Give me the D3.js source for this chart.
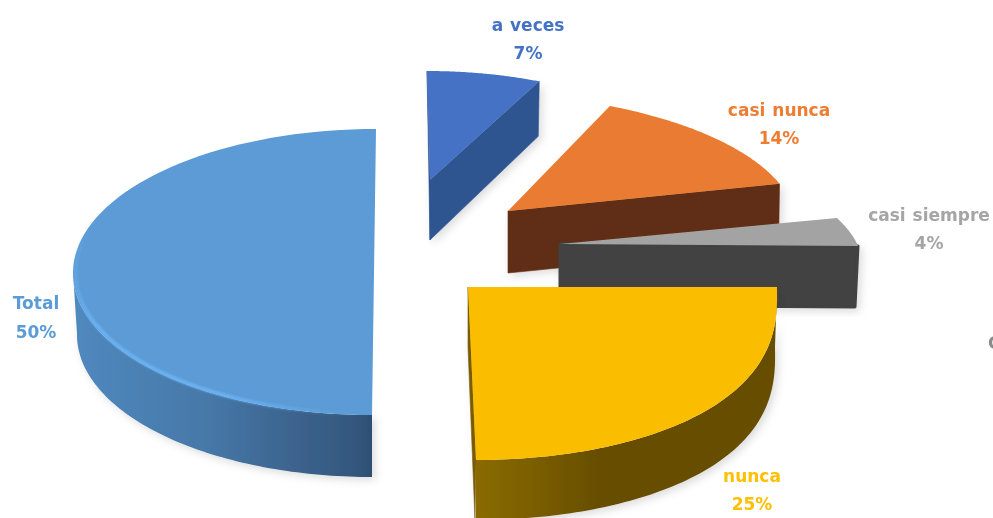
<!DOCTYPE html>
<html><head><meta charset="utf-8">
<script src="https://cdnjs.cloudflare.com/ajax/libs/d3/7.8.5/d3.min.js"></script>
<style>
html,body{margin:0;padding:0;background:#fff;overflow:hidden}
svg{display:block}
text{font-family:"DejaVu Sans",sans-serif;font-weight:bold;font-size:17px;text-anchor:middle;word-spacing:1px}
</style></head><body>
<svg id="c" width="993" height="518"></svg>
<script>
// Data
const categories = ["a veces","casi nunca","casi siempre","nunca","Total"];
const percents   = [7,14,4,25,50];
const croppedEdgeText = ["C"];
// Styles
const topColors  = ["#4472c4","#e97c30","#a3a3a3","#fbbd00","#5b9bd5"];
const wallColors = ["#2f5490","#612f13","#424242","#7a5c00","#4a7fb0"];
const textColors = ["#4472c4","#ed7d31","#a5a5a5","#ffc000","#5b9bd5"];
// Layout: each exploded slice has its own projected position and radii
const centreX = [430,508,560,468,374];
const centreY = [180,211,244,287,272];
const radiusX = [263,286,298,309,301];
const radiusY = [109,117,112,173,143];
const shearX  = [-3,-22,-47,-8,2];
const tiltY   = [0,2,2,0,0];
const powerY  = [1,1,1,0.8,1];
const depth   = [60,62,61,60,62];
const inset   = [2,2,6,2,4];
const labelX  = [528,779,929,752,36];
const labelY1 = [31,116,221,482,309];
const labelY2 = [59,144,249,510,338];
const showStart = [true,false,false,false,false];
const showEnd   = [true,true,true,true,false];
const showRim   = [false,false,false,true,true];

const svg = d3.select("#c");
const defs = svg.append("defs");
const soft = defs.append("filter").attr("id","soft").attr("x","-5%").attr("y","-5%").attr("width","110%").attr("height","110%");
soft.append("feGaussianBlur").attr("stdDeviation",0.55);
const shadow = defs.append("filter").attr("id","shadow").attr("x","-10%").attr("y","-10%").attr("width","120%").attr("height","125%");
shadow.append("feDropShadow").attr("dx",3).attr("dy",3).attr("stdDeviation",4).attr("flood-color","#000").attr("flood-opacity",0.14);
const glow = defs.append("filter").attr("id","glow").attr("x","-5%").attr("y","-5%").attr("width","110%").attr("height","110%");
glow.append("feGaussianBlur").attr("stdDeviation",0.9);

function gradient(id, stops){
  const g = defs.append("linearGradient").attr("id",id).attr("x1",0).attr("x2",1).attr("y1",0).attr("y2",0);
  stops.forEach(s=>g.append("stop").attr("offset",s[0]).attr("stop-color",s[1]));
}
gradient("wall3",[[0,"#8a6b00"],[0.2,"#7a5d00"],[0.42,"#664d00"],[1,"#664d00"]]);
gradient("wall4",[[0,"#5089bf"],[0.45,"#4678a8"],[0.8,"#395f88"],[0.93,"#355880"],[1,"#2d4f72"]]);

const arcs = d3.pie().sort(null).value(d=>d)(percents);
const steps = 80;

function px(i,a,r=1){return centreX[i]+radiusX[i]*r*Math.sin(a)+shearX[i]*r*Math.cos(a);}
function py(i,a,r=1){
  const c=Math.cos(a);
  return centreY[i]-radiusY[i]*r*Math.sign(c)*Math.pow(Math.abs(c),powerY[i])+tiltY[i]*r*Math.sin(a);
}
function sweep(a0,a1){return d3.range(steps+1).map(k=>a0+(a1-a0)*k/steps);}
const poly = d3.line();

const root = svg.append("g").attr("filter","url(#soft)");
const charts = root.selectAll("g.slice").data(arcs).join("g").attr("class","slice");

charts.each(function(d,i){
  const g = d3.select(this);
  const walls = g.append("g").attr("filter","url(#shadow)");
  const cut = a => {
    const bx = centreX[i], by = centreY[i];
    const ex = px(i,a), ey = py(i,a);
    const pts = [[bx,by],[ex,ey],[ex-Math.sign(ex-bx)*inset[i]*0.5,ey+depth[i]-(i===0?5:0)],[bx,by+depth[i]]];
    walls.append("path").attr("d",poly(pts)+"Z")
      .attr("fill",wallColors[i]).attr("stroke",wallColors[i])
      .attr("stroke-width",i===2?3:0.6).attr("stroke-linejoin","round");
  };
  if(showStart[i]) cut(d.startAngle);
  if(showEnd[i]) cut(d.endAngle);
  if(showRim[i]){
    const a0 = d.startAngle, a1 = i===4 ? d.startAngle+Math.PI*0.5 : d.endAngle;
    const area = d3.area()
      .x0(a=>px(i,a)).y0(a=>py(i,a))
      .x1(a=>centreX[i]+(radiusX[i]-inset[i])*Math.sin(a)+shearX[i]*Math.cos(a))
      .y1(a=>py(i,a)+depth[i]);
    walls.append("path").attr("d",area(sweep(a0,a1)))
      .attr("fill",i===3?"url(#wall3)":"url(#wall4)");
  }
  // top face, built from the pie layout's angles and projected
  const face = [[centreX[i],centreY[i]]].concat(sweep(d.startAngle,d.endAngle).map(a=>[px(i,a),py(i,a)]));
  g.append("path").attr("d",poly(face)+"Z").attr("fill",topColors[i]);
  if(i===4){
    const rimLine = d3.line().x(a=>px(i,a,0.992)).y(a=>py(i,a,0.992));
    const pts = sweep(d.startAngle+0.08,d.startAngle+Math.PI*0.6);
    defs.append("linearGradient").attr("id","hi2").attr("gradientUnits","userSpaceOnUse")
      .attr("x1",340).attr("y1",410).attr("x2",160).attr("y2",165)
      .call(s=>{
        s.append("stop").attr("offset",0).attr("stop-color","#6cb4f5").attr("stop-opacity",0.1);
        s.append("stop").attr("offset",0.25).attr("stop-color","#6cb4f5").attr("stop-opacity",0.95);
        s.append("stop").attr("offset",0.7).attr("stop-color","#6cb4f5").attr("stop-opacity",0.95);
        s.append("stop").attr("offset",1).attr("stop-color","#6cb4f5").attr("stop-opacity",0);
      });
    g.append("path").attr("d",rimLine(pts)).attr("fill","none")
      .attr("stroke","url(#hi2)").attr("stroke-width",3.5).attr("filter","url(#glow)");
  }
});

const labels = svg.append("g").attr("filter","url(#soft)");
labels.selectAll("text.name").data(categories).join("text").attr("class","name")
  .attr("x",(d,i)=>labelX[i]).attr("y",(d,i)=>labelY1[i]).attr("fill",(d,i)=>textColors[i]).text(d=>d);
labels.selectAll("text.pct").data(percents).join("text").attr("class","pct")
  .attr("x",(d,i)=>labelX[i]).attr("y",(d,i)=>labelY2[i]).attr("fill",(d,i)=>textColors[i]).text(d=>d+"%");
labels.selectAll("text.edge").data(croppedEdgeText).join("text").attr("class","edge")
  .attr("x",988).attr("y",349).attr("fill","#8a8a8a").style("text-anchor","start").text(d=>d);
</script>
</body></html>
